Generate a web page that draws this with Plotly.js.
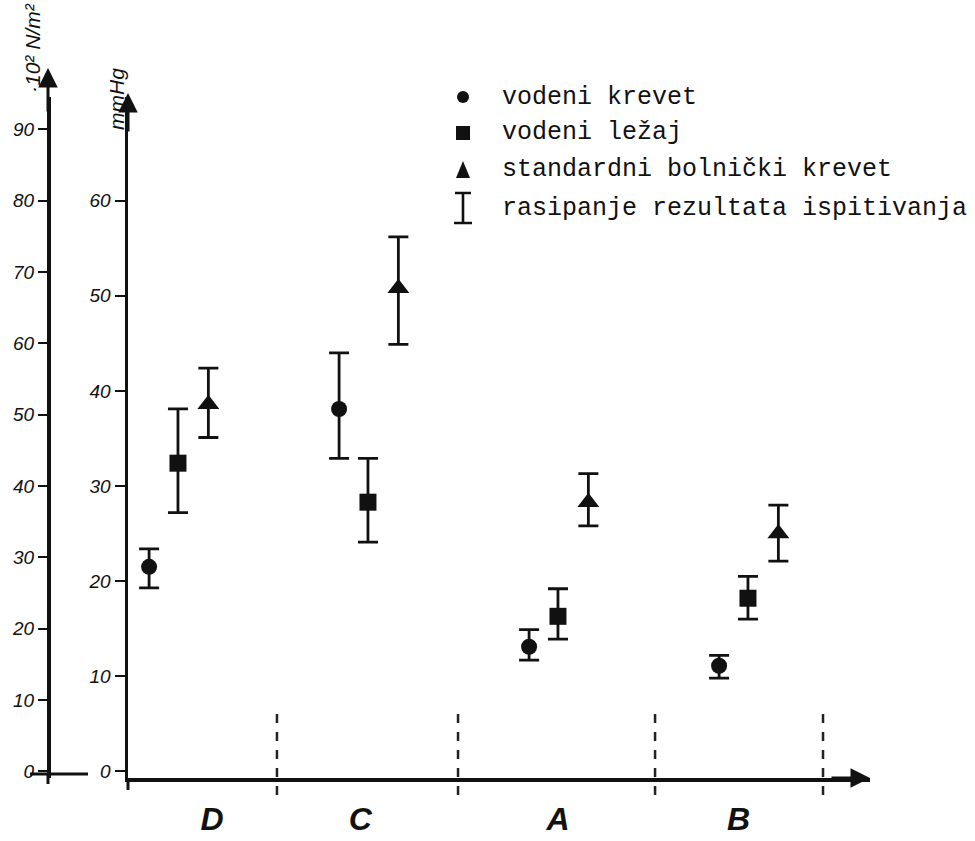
<!DOCTYPE html>
<html>
<head>
<meta charset="utf-8">
<script src="https://cdn.plot.ly/plotly-3.0.1.min.js"></script>
<style>html,body{margin:0;padding:0;background:#fff;}#chart{width:975px;height:841px;}</style>
</head>
<body>
<div id="chart"></div>
<script>
// ---- data (mmHg) ----
const categories = ['D', 'C', 'A', 'B'];
const seriesNames = ['vodeni krevet', 'vodeni ležaj', 'standardni bolnički krevet'];
const errorLabel = 'rasipanje rezultata ispitivanja';

const vodeniKrevet     = [21.5, 38.1, 13.1, 11.1];
const vodeniKrevetHi   = [23.4, 44.0, 14.9, 12.2];
const vodeniKrevetLo   = [19.3, 32.9, 11.7,  9.8];

const vodeniLezaj      = [32.4, 28.3, 16.3, 18.2];
const vodeniLezajHi    = [38.1, 32.9, 19.2, 20.5];
const vodeniLezajLo    = [27.2, 24.1, 13.9, 16.0];

const standardni       = [38.6, 50.8, 28.3, 25.0];
const standardniHi     = [42.4, 56.2, 31.3, 28.0];
const standardniLo     = [35.1, 44.9, 25.8, 22.1];

const mmHgTicks = [0, 10, 20, 30, 40, 50, 60];
const nm2Ticks  = [0, 10, 20, 30, 40, 50, 60, 70, 80, 90];
const MMHG_TO_HPA = 1.33322; // 1 mmHg = 1.33322 ·10² N/m²

// ---- layout helpers (pixel geometry) ----
const W = 975, H = 841;
const M = {l: 20, r: 105, t: 97, b: 63};
const PW = W - M.l - M.r, PH = H - M.t - M.b;
const px = x => (x - M.l) / PW;          // pixel x -> paper
const py = y => (H - M.b - y) / PH;      // pixel y -> paper

const xStart = -0.263, xEnd = xStart + (PW - 108) / 190;
const yRange = [-0.7, 70.9];
const offsets = [-0.152, 0, 0.16];
const labelPos = [0.18, 0.96, 2.0, 2.95];
const dividers = [0.521, 1.474, 2.511, 3.395];

const idx = categories.map((c, i) => i);
function mk(name, vals, hi, lo, k, symbol, size) {
  return {
    type: 'scatter', mode: 'markers', name: name, showlegend: false,
    x: idx.map(i => i + offsets[k]), y: vals,
    marker: {symbol: symbol, size: size, color: '#111', line: {width: 0}},
    error_y: {type: 'data', symmetric: false,
      array: hi.map((h, i) => +(h - vals[i]).toFixed(2)),
      arrayminus: lo.map((l, i) => +(vals[i] - l).toFixed(2)),
      color: '#111', thickness: 2.8, width: 10},
    xaxis: 'x', yaxis: 'y', cliponaxis: false
  };
}
const traces = [
  mk(seriesNames[0], vodeniKrevet, vodeniKrevetHi, vodeniKrevetLo, 0, 'circle', 16),
  mk(seriesNames[1], vodeniLezaj, vodeniLezajHi, vodeniLezajLo, 1, 'square', 17),
  mk(seriesNames[2], standardni, standardniHi, standardniLo, 2, 'triangle-up', 19),
  // invisible trace to activate the second (N/m²) axis
  {type: 'scatter', mode: 'markers', x: [xStart], y: [0], yaxis: 'y2', showlegend: false,
   marker: {opacity: 0}, hoverinfo: 'skip'}
];

const tickFont = {family: 'Liberation Sans, Arial, sans-serif', size: 19, color: '#111', style: 'italic'};
const legFont = {family: 'Liberation Mono, Courier New, monospace', size: 25, color: '#111'};
const titleFont = {family: 'Liberation Sans, Arial, sans-serif', size: 21, color: '#111', style: 'italic'};

const legendRows = [97, 133, 170, 208];
const annotations = [
  // axis titles
  {xref: 'paper', yref: 'paper', x: px(116), y: py(99), xanchor: 'center', yanchor: 'middle',
   text: 'mmHg', textangle: -90, showarrow: false, font: titleFont},
  {xref: 'paper', yref: 'paper', x: px(32), y: py(48), xanchor: 'center', yanchor: 'middle',
   text: '·10² N/m²', textangle: -90, showarrow: false, font: titleFont},
  // axis arrows
  {xref: 'paper', yref: 'paper', x: px(128), y: py(93), ax: 0, ay: 40, text: '', showarrow: true,
   arrowhead: 2, arrowsize: 1.3, arrowwidth: 3, arrowcolor: '#111'},
  {xref: 'paper', yref: 'paper', x: px(48), y: py(68), ax: 0, ay: 45, text: '', showarrow: true,
   arrowhead: 2, arrowsize: 1.3, arrowwidth: 3, arrowcolor: '#111'},
  {xref: 'paper', yref: 'paper', x: px(870), y: py(778), ax: -40, ay: 0, text: '', showarrow: true,
   arrowhead: 2, arrowsize: 1.3, arrowwidth: 3, arrowcolor: '#111'}
];
const legendTexts = seriesNames.concat([errorLabel]);
legendTexts.forEach((t, i) => annotations.push({
  xref: 'paper', yref: 'paper', x: px(500), y: py(legendRows[i]), xanchor: 'left', yanchor: 'middle',
  text: t, showarrow: false, font: legFont
}));

const shapes = [];
// category dividers (dashed)
dividers.forEach(d => shapes.push({type: 'line', xref: 'x', yref: 'paper', x0: d, x1: d,
  y0: py(714), y1: py(802), line: {color: '#222', width: 2.5, dash: 'dash'}}));
// small base line of the N/m² axis
shapes.push({type: 'line', xref: 'paper', yref: 'paper', x0: px(30), x1: px(88), y0: py(774), y1: py(774),
  line: {color: '#111', width: 3}});
shapes.push({type: 'line', xref: 'paper', yref: 'paper', x0: px(48), x1: px(48), y0: py(784), y1: py(774),
  line: {color: '#111', width: 3}});
shapes.push({type: 'line', xref: 'paper', yref: 'paper', x0: px(128), x1: px(128), y0: py(790), y1: py(778),
  line: {color: '#111', width: 3}});
// legend symbols
const lx = px(463);
shapes.push({type: 'circle', xref: 'paper', yref: 'paper', xsizemode: 'pixel', ysizemode: 'pixel',
  xanchor: lx, yanchor: py(legendRows[0]), x0: -6, x1: 6, y0: -6, y1: 6, fillcolor: '#111', line: {width: 0}});
shapes.push({type: 'rect', xref: 'paper', yref: 'paper', xsizemode: 'pixel', ysizemode: 'pixel',
  xanchor: lx, yanchor: py(legendRows[1]), x0: -7, x1: 7, y0: -7, y1: 7, fillcolor: '#111', line: {width: 0}});
shapes.push({type: 'path', xref: 'paper', yref: 'paper', xsizemode: 'pixel', ysizemode: 'pixel',
  xanchor: lx, yanchor: py(legendRows[2]), path: 'M-7,-8 L7,-8 L0,9 Z', fillcolor: '#111', line: {width: 0}});
shapes.push({type: 'path', xref: 'paper', yref: 'paper', xsizemode: 'pixel', ysizemode: 'pixel',
  xanchor: lx, yanchor: py(legendRows[3]), path: 'M-9,-15 H9 M0,-15 V15 M-8,15 H8',
  line: {color: '#111', width: 2.6}});

const layout = {
  width: W, height: H,
  margin: M,
  paper_bgcolor: '#fff', plot_bgcolor: 'rgba(0,0,0,0)',
  showlegend: false,
  xaxis: {domain: [px(128), 1], range: [xStart, xEnd], showgrid: false, zeroline: false,
    showline: true, linecolor: '#111', linewidth: 3.5,
    tickmode: 'array', tickvals: labelPos, ticktext: categories, ticks: '',
    ticklabelstandoff: 10,
    tickfont: {family: 'Liberation Sans, Arial, sans-serif', size: 32, color: '#111', style: 'italic', weight: 'bold'}},
  yaxis: {range: yRange, anchor: 'x', showgrid: false, zeroline: false,
    showline: true, linecolor: '#111', linewidth: 3.5,
    tickmode: 'array', tickvals: mmHgTicks, ticks: 'outside', ticklen: 10, tickwidth: 2.2, tickcolor: '#111',
    tickfont: tickFont},
  yaxis2: {overlaying: 'y', anchor: 'free', position: px(48), side: 'left',
    range: yRange.map(v => v * MMHG_TO_HPA), showgrid: false, zeroline: false,
    showline: true, linecolor: '#111', linewidth: 3.5,
    tickmode: 'array', tickvals: nm2Ticks, ticks: 'outside', ticklen: 9, tickwidth: 2.2, tickcolor: '#111',
    tickfont: tickFont},
  annotations: annotations,
  shapes: shapes
};

Plotly.newPlot('chart', traces, layout, {staticPlot: true, displayModeBar: false});
</script>
</body>
</html>
